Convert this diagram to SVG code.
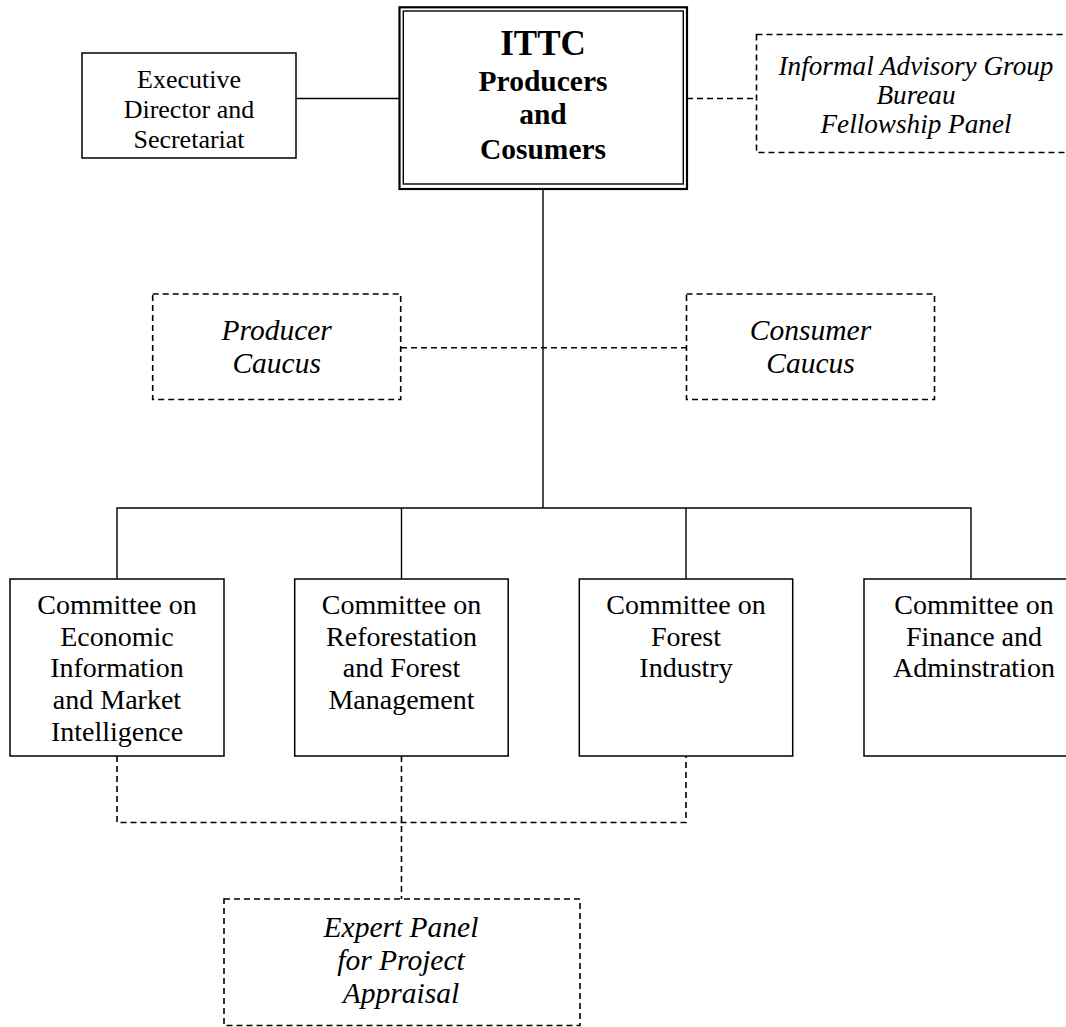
<svg xmlns="http://www.w3.org/2000/svg" width="1066" height="1027" viewBox="0 0 1066 1027">
<style>
  .box { fill: #fff; stroke: #000; stroke-width: 1.5; }
  .dbox { fill: #fff; stroke: #000; stroke-width: 1.6; stroke-dasharray: 6 4; }
  .ln { fill: none; stroke: #000; stroke-width: 1.4; }
  .dln { fill: none; stroke: #000; stroke-width: 1.6; stroke-dasharray: 6 4; }
  text { font-family: "Liberation Serif", "Times New Roman", serif; fill: #000; text-anchor: middle; }
  .t { font-size: 26px; }
  .c { font-size: 28px; }
  .i { font-size: 29.5px; font-style: italic; }
  .it { font-size: 27.2px; font-style: italic; }
  .b { font-size: 29.5px; font-weight: bold; }
  .bb { font-size: 35px; font-weight: bold; }
</style>
<rect width="1066" height="1027" fill="#fff"/>
<g id="connectors">
  <line class="ln" x1="296" y1="98.5" x2="400" y2="98.5"/>
  <line class="dln" x1="687" y1="98.5" x2="757" y2="98.5"/>
  <line class="ln" x1="543" y1="189" x2="543" y2="508"/>
  <line class="dln" x1="401" y1="347.8" x2="686" y2="347.8"/>
  <polyline class="ln" points="117,579 117,508 971,508 971,579"/>
  <line class="ln" x1="401.5" y1="508" x2="401.5" y2="579"/>
  <line class="ln" x1="686" y1="508" x2="686" y2="579"/>
  <polyline class="dln" points="117,756 117,822.5 686,822.5 686,756"/>
  <line class="dln" x1="401.5" y1="756" x2="401.5" y2="899"/>
</g>
<g id="node-ittc">
  <rect x="399.5" y="7.3" width="287.5" height="181.7" fill="#fff" stroke="#000" stroke-width="2.2"/>
  <rect x="403.3" y="11" width="280" height="173" fill="none" stroke="#000" stroke-width="1.4"/>
  <text class="bb" x="543" y="55">ITTC</text>
  <text class="b" x="543" y="90.5">Producers</text>
  <text class="b" x="543" y="123.5">and</text>
  <text class="b" x="543" y="159">Cosumers</text>
</g>
<g id="node-executive">
  <rect class="box" x="82" y="53" width="214" height="105"/>
  <text class="t" x="189" y="88">Executive</text>
  <text class="t" x="189" y="118">Director and</text>
  <text class="t" x="189" y="148">Secretariat</text>
</g>
<g id="node-advisory">
  <rect class="dbox" x="756.5" y="34.5" width="320" height="118"/>
  <text class="it" x="916" y="75">Informal Advisory Group</text>
  <text class="it" x="916" y="104">Bureau</text>
  <text class="it" x="916" y="133">Fellowship Panel</text>
</g>
<g id="node-producer-caucus">
  <rect class="dbox" x="152.7" y="294" width="248" height="105.5"/>
  <text class="i" x="276.7" y="340">Producer</text>
  <text class="i" x="276.7" y="372.5">Caucus</text>
</g>
<g id="node-consumer-caucus">
  <rect class="dbox" x="686.5" y="294" width="248" height="105.5"/>
  <text class="i" x="810.5" y="340">Consumer</text>
  <text class="i" x="810.5" y="372.5">Caucus</text>
</g>
<g id="node-committee-economic">
  <rect class="box" x="10" y="579" width="214" height="177"/>
  <text class="c" x="117" y="614">Committee on</text>
  <text class="c" x="117" y="645.7">Economic</text>
  <text class="c" x="117" y="677.4">Information</text>
  <text class="c" x="117" y="709.1">and Market</text>
  <text class="c" x="117" y="740.8">Intelligence</text>
</g>
<g id="node-committee-reforestation">
  <rect class="box" x="294.7" y="579" width="213.5" height="177"/>
  <text class="c" x="401.5" y="614">Committee on</text>
  <text class="c" x="401.5" y="645.7">Reforestation</text>
  <text class="c" x="401.5" y="677.4">and Forest</text>
  <text class="c" x="401.5" y="709.1">Management</text>
</g>
<g id="node-committee-industry">
  <rect class="box" x="579.3" y="579" width="213.4" height="177"/>
  <text class="c" x="686" y="614">Committee on</text>
  <text class="c" x="686" y="645.7">Forest</text>
  <text class="c" x="686" y="677.4">Industry</text>
</g>
<g id="node-committee-finance">
  <rect class="box" x="864" y="579" width="214" height="177"/>
  <text class="c" x="974" y="614">Committee on</text>
  <text class="c" x="974" y="645.7">Finance and</text>
  <text class="c" x="974" y="677.4">Adminstration</text>
</g>
<g id="node-expert-panel">
  <rect class="dbox" x="224" y="899" width="356" height="126.5"/>
  <text class="i" x="401" y="936.7">Expert Panel</text>
  <text class="i" x="401" y="970">for Project</text>
  <text class="i" x="401" y="1003.3">Appraisal</text>
</g>
</svg>
